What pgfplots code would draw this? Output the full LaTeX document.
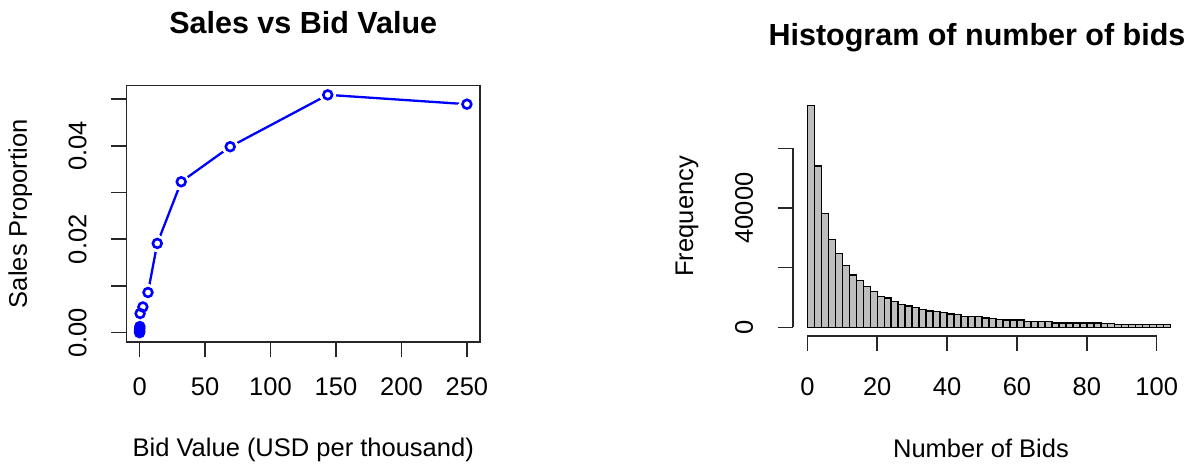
\documentclass[border=0pt]{standalone}
\usepackage{pgfplots}
\pgfplotsset{compat=1.18}
\usepackage{fontspec}
\setmainfont{Liberation Sans}
\definecolor{rblue}{RGB}{0,0,255}
\definecolor{rgray}{RGB}{190,190,190}
\newcommand\lab{\fontsize{25.5}{30}\selectfont}
\newcommand\ttl{\fontsize{30.5}{36}\selectfont\bfseries}
\pgfplotsset{
  rstyle/.style={
    scale only axis, anchor=south west,
    tick align=outside, major tick length=15pt,
    every tick/.style={line width=1.5pt, black!85},
    xticklabel style={font=\lab, anchor=base, yshift=-38pt},
    yticklabel style={font=\lab, xshift=-25pt, rotate=90, anchor=base},
    title style={font=\ttl, anchor=base},
    xlabel style={font=\lab, anchor=base},
    ylabel style={font=\lab, anchor=base, rotate=0},
    scaled y ticks=false, scaled x ticks=false,
  }
}
\begin{document}
\begin{tikzpicture}
\useasboundingbox (0pt,0pt) rectangle (1202pt,466pt);
\begin{axis}[rstyle,
  at={(126.5pt,124pt)}, width=353.5pt, height=256.5pt,
  xmin=-10, xmax=260, ymin=-0.002, ymax=0.0529,
  axis on top,
  xtick pos=lower, ytick pos=left,
  xtick={0,50,100,150,200,250}, xticklabels={0,50,100,150,200,250},
  ytick={0,0.01,0.02,0.03,0.04,0.05}, yticklabels={0.00,,0.02,,0.04,},
  axis line style={line width=1.5pt, black!85},
  title={Sales vs Bid Value},
  title style={at={(axis description cs:0.5,1.1774)}},
  xlabel={Bid Value (USD per thousand)},
  xlabel style={at={(axis description cs:0.5,-0.4483)}},
  ylabel={Sales Proportion},
  ylabel style={at={(axis description cs:-0.2815,0.5)}},
]
\pgfplotstableread{
x y
0.01 0.0000
0.02 0.0002
0.05 0.0005
0.1 0.0009
0.2 0.0013
0.4 0.0041
2.5 0.0055
6.4 0.0086
13.5 0.0191
31.8 0.0323
69.2 0.0398
143.7 0.0509
250 0.0489
}\salesdata
\addplot[rblue, line width=2.3pt, no marks] table {\salesdata};
\addplot[only marks, white, mark=*, mark size=8pt, mark options={draw=white, fill=white, line width=0pt}] table {\salesdata};
\addplot[only marks, mark=o, mark size=4.4pt, mark options={draw=rblue, line width=2.6pt}] table {\salesdata};
\end{axis}

\begin{axis}[rstyle,
  at={(792.8pt,129.8pt)}, width=392.4pt, height=239.7pt,
  xmin=-4.16, xmax=108.16, ymin=-2976, ymax=77376,
  axis x line*=bottom, axis y line*=left, axis line style={draw=none},
  xtick={0,20,40,60,80,100}, xticklabels={0,20,40,60,80,100},
  ytick={0,20000,40000,60000}, yticklabels={0,,40000,},
  clip=false,
  xticklabel style={yshift=-5.8pt},
  title={Histogram of number of bids},
  title style={at={(axis description cs:0.4694,1.1898)}},
  xlabel={Number of Bids},
  xlabel style={at={(axis description cs:0.4796,-0.5081)}},
  ylabel={Frequency},
  ylabel style={at={(axis description cs:-0.2543,0.5)}},
]
\addplot[ybar interval, fill=rgray, draw=black, line width=1.4pt] coordinates {
(0,74400) (2,54100) (4,38200) (6,29500) (8,24700) (10,20800) (12,17500) (14,15700)
(16,13600) (18,12100) (20,10400) (22,9800) (24,8700) (26,7700) (28,7200) (30,6600)
(32,6000) (34,5500) (36,5400) (38,5000) (40,4400) (42,4200) (44,3700) (46,3600)
(48,3600) (50,3100) (52,3000) (54,2600) (56,2500) (58,2500) (60,2400) (62,2000)
(64,1900) (66,1900) (68,1900) (70,1500) (72,1500) (74,1400) (76,1400) (78,1400)
(80,1400) (82,1400) (84,1300) (86,1300) (88,1000) (90,1000) (92,950) (94,950)
(96,900) (98,900) (100,900) (102,900) (104,900)
};
\draw[line width=1.5pt, black!85] (axis cs:0,-2976) -- (axis cs:100,-2976);
\draw[line width=1.5pt, black!85] (axis cs:-4.16,0) -- (axis cs:-4.16,60000);
\end{axis}
\end{tikzpicture}
\end{document}
